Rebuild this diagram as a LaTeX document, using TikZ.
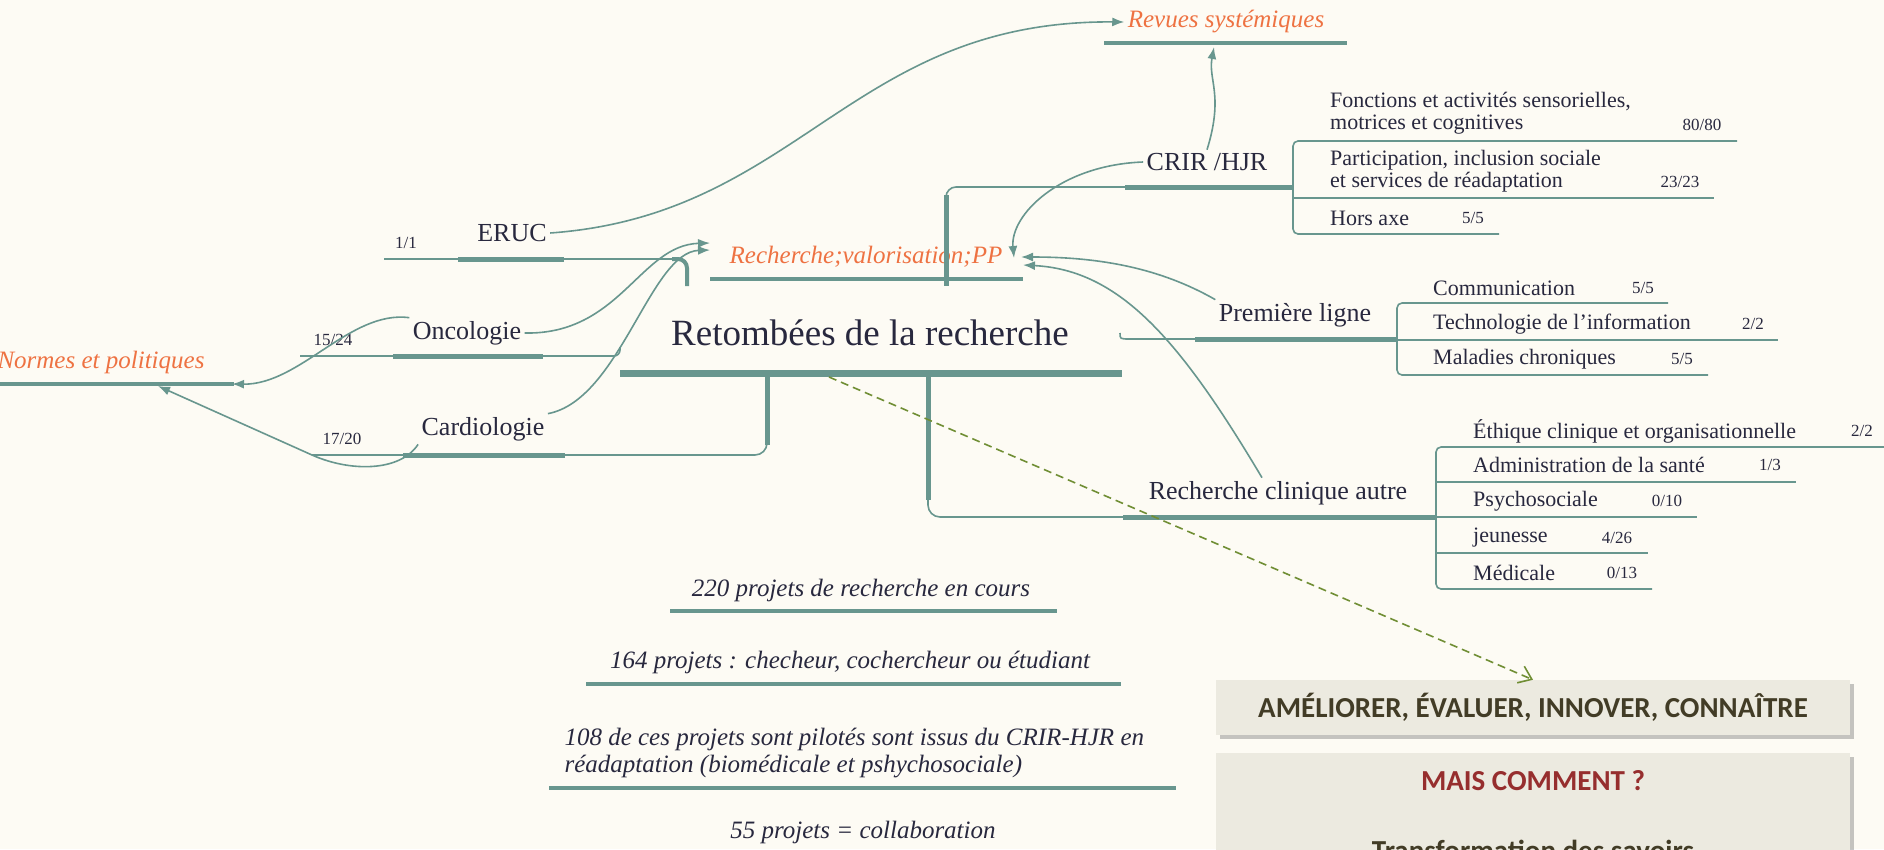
\documentclass[tikz,border=0pt]{standalone}
\usepackage{fontspec}
\setmainfont{Liberation Serif}
\newfontfamily\calfont{Carlito}
\usetikzlibrary{arrows.meta,shadows}
\definecolor{paper}{RGB}{253,251,244}
\definecolor{mapteal}{RGB}{104,150,142}
\definecolor{maporange}{RGB}{238,114,66}
\definecolor{mapink}{RGB}{40,40,62}
\definecolor{boxfill}{RGB}{236,234,224}
\definecolor{boxink}{RGB}{66,60,38}
\definecolor{boxred}{RGB}{150,46,46}
\definecolor{dashgreen}{RGB}{112,142,52}
\tikzset{
  branch/.style={text=mapink, font=\fontsize{26}{30}\selectfont},
  leaf/.style={text=mapink, anchor=west, inner sep=0pt, align=left, font=\fontsize{22}{22}\selectfont},
  score/.style={text=mapink, inner sep=0pt, font=\fontsize{17}{20}\selectfont},
  target/.style={text=maporange, font=\fontsize{25}{30}\selectfont\itshape},
  fact/.style={text=mapink, font=\fontsize{25}{27}\selectfont\itshape},
  fine/.style={draw=mapteal, line width=1.6pt},
  bar/.style={draw=mapteal, line width=5pt},
  link/.style={draw=mapteal, line width=1.6pt, -{Latex[length=12pt,width=9pt]}},
  banner/.style={fill=boxfill, minimum width=634pt, drop shadow={shadow xshift=4pt, shadow yshift=-4pt, opacity=.45}},
  bannertext/.style={font=\calfont\bfseries\fontsize{29}{32}\selectfont}
}

\begin{document}
\begin{tikzpicture}[x=1pt,y=-1pt]
        \fill[paper] (0,0) rectangle (1884,849);
        \useasboundingbox (0,0) rectangle (1884,849);

        \node[text=mapink, font=\fontsize{37}{40}\selectfont] (root) at (870,333) {Retombées de la recherche};
        \draw[bar, line width=7pt] (620,373) -- (1122,373);
        \coordinate (root-d) at (829,377);

        \node[target] (revues) at (1226,22) {Revues systémiques};
        \draw[bar, line width=4pt] (1104,43) -- (1347,43);
        \coordinate (revues-in) at (1214,47);
        \node[target] (valo) at (866,257) {Recherche;valorisation;PP};
        \draw[bar, line width=4pt] (710,279) -- (1023,279);
        \coordinate (valo-l1) at (710,243);
        \coordinate (valo-l2) at (710,250);
        \coordinate (valo-r0) at (1014,258);
        \coordinate (valo-r1) at (1021,257);
        \coordinate (valo-r2) at (1023,265);
        \node[target] (normes) at (101,362) {Normes et politiques};
        \draw[bar, line width=4pt] (0,384) -- (234,384);
        \coordinate (normes-a) at (232,384);
        \coordinate (normes-b) at (158,386);

        \node[branch] (eruc) at (512,233) {ERUC};
        \node[score] at (406,243) {1/1};
        \draw[fine] (384,259) -- (458,259);
        \draw[bar] (458,259) -- (564,259);
        \draw[fine] (564,259) -- (676,259);
        \draw[bar, line width=4pt, rounded corners=9pt] (672,259) -- (687,259) -- (687,286);

        \node[branch] (onco) at (467,333) {Oncologie};
        \node[score] at (333,340) {15/24};
        \draw[fine] (300,356) -- (393,356);
        \draw[bar] (393,356) -- (543,356);
        \draw[fine, rounded corners=6pt] (543,356) -- (620,356) -- (620,347);

        \node[branch] (cardio) at (483,429) {Cardiologie};
        \node[score] at (342,439) {17/20};
        \draw[fine] (312,455) -- (403,455);
        \draw[bar] (403,455) -- (565,455);
        \draw[fine, rounded corners=12pt] (565,455) -- (767,455) -- (767,425);
        \draw[bar] (767,445) -- (767,373);

        \node[branch] (crir) at (1207,162) {CRIR /HJR};
        \draw[bar] (1125,187) -- (1293,187);
        \draw[fine, rounded corners=10pt] (1125,187) -- (946,187) -- (946,210);
        \draw[bar] (946,195) -- (946,286);

        \node[branch] (prem) at (1295,315) {Première ligne};
        \draw[fine] (1120,333) .. controls (1120,339) .. (1130,339) -- (1195,339);
        \draw[bar] (1195,339) -- (1397,339);

        \node[branch] (rca) at (1278,493) {Recherche clinique autre};
        \draw[bar] (928,373) -- (928,500);
        \draw[fine, rounded corners=12pt] (928,490) -- (928,517) -- (1123,517);
        \draw[bar] (1123,517) -- (1436,517);

        \draw[fine, rounded corners=5pt] (1737,141) -- (1293,141) -- (1293,234) -- (1499,234);
        \draw[fine] (1293,198) -- (1714,198);
        \node[leaf] (fonct) at (1330,113) {Fonctions et activités sensorielles,\\motrices et cognitives};
        \node[score] at (1702,125) {80/80};
        \node[leaf] (partic) at (1330,171) {Participation, inclusion sociale\\et services de réadaptation};
        \node[score] at (1680,182) {23/23};
        \node[leaf] (hors) at (1330,218) {Hors axe};
        \node[score] at (1473,218) {5/5};

        \draw[fine, rounded corners=5pt] (1668,303) -- (1397,303) -- (1397,375) -- (1708,375);
        \draw[fine] (1397,340) -- (1778,340);
        \node[leaf] (comm) at (1433,288) {Communication};
        \node[score] at (1643,288) {5/5};
        \node[leaf] (techno) at (1433,324) {Technologie de l'information};
        \node[score] at (1753,324) {2/2};
        \node[leaf] (malad) at (1433,359) {Maladies chroniques};
        \node[score] at (1682,359) {5/5};

        \draw[fine, rounded corners=5pt] (1884,447) -- (1436,447) -- (1436,589) -- (1652,589);
        \draw[fine] (1436,482) -- (1796,482);
        \draw[fine] (1436,517) -- (1697,517);
        \draw[fine] (1436,553) -- (1648,553);
        \node[leaf] (ethique) at (1473,431) {Éthique clinique et organisationnelle};
        \node[score] at (1862,431) {2/2};
        \node[leaf] (admin) at (1473,465) {Administration de la santé};
        \node[score] at (1770,465) {1/3};
        \node[leaf] (psycho) at (1473,501) {Psychosociale};
        \node[score] at (1667,501) {0/10};
        \node[leaf] (jeunesse) at (1473,538) {jeunesse};
        \node[score] at (1617,538) {4/26};
        \node[leaf] (medic) at (1473,573) {Médicale};
        \node[score] at (1622,573) {0/13};

        \draw[link] (eruc.east) .. controls (800,215) and (850,20) .. (revues.west);
        \draw[link] (crir.north) .. controls (1224,95) and (1208,80) .. (revues-in);
        \draw[link] (crir.west) .. controls (1060,165) and (1010,215) .. (valo-r0);
        \draw[link] (prem.north west) .. controls (1160,268) and (1100,257) .. (valo-r1);
        \draw[link] ([xshift=-16pt]rca.north) .. controls (1180,340) and (1120,270) .. (valo-r2);
        \draw[link] (onco.east) .. controls (620,335) and (640,245) .. (valo-l1);
        \draw[link] (cardio.north east) .. controls (620,400) and (650,252) .. (valo-l2);
        \draw[link] (onco.north west) .. controls (350,310) and (300,385) .. (normes-a);
        \draw[link] (cardio.south west) .. controls (400,472) and (350,472) .. (312,455) -- (normes-b);

        \node[fact] (f220) at (861,590) {220 projets de recherche en cours};
        \draw[bar, line width=4pt] (670,611) -- (1057,611);
        \node[fact] (f164) at (850,662) {164 projets : checheur, cochercheur ou étudiant};
        \draw[bar, line width=4pt] (586,684) -- (1121,684);
        \node[fact, anchor=west, align=left] (f108) at (561,753) {108 de ces projets sont pilotés sont issus du CRIR-HJR en\\réadaptation (biomédicale et pshychosociale)};
        \draw[bar, line width=4pt] (549,788) -- (1176,788);
        \node[fact] (f55) at (863,832) {55 projets = collaboration};

        \node[banner, minimum height=55pt, text=boxink, bannertext] (goals) at (1533,707.5) {AMÉLIORER, ÉVALUER, INNOVER, CONNAÎTRE};
        \node[banner, minimum height=200pt] (howbox) at (1533,853) {};
        \node[text=boxred, bannertext] (how) at (1533,781) {MAIS COMMENT ?};
        \node[text=boxink, bannertext, anchor=base] (savoirs) at (1533,860) {Transformation des savoirs};

        \draw[dashgreen, line width=1.6pt, dash pattern=on 8pt off 5pt, -{Straight Barb[length=12pt,width=18pt]}] (root-d) -- (goals.north);
    \end{tikzpicture}
\end{document}
